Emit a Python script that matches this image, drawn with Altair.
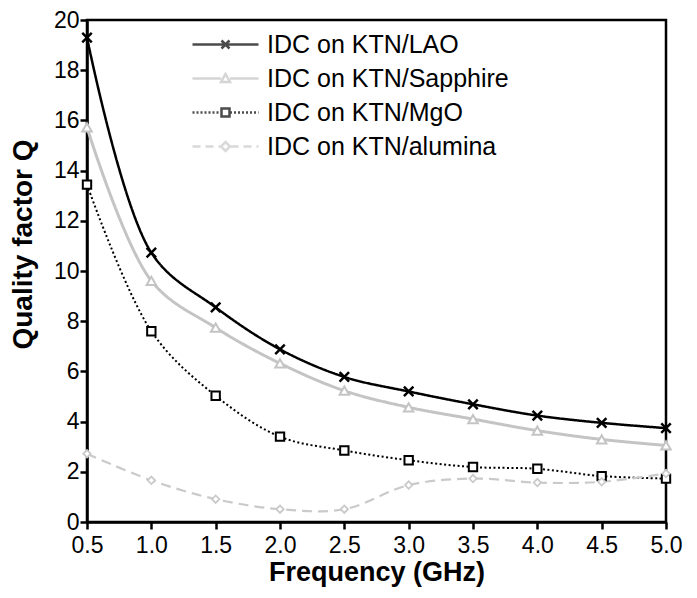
import altair as alt
import pandas as pd

freq = [0.5, 1.0, 1.5, 2.0, 2.5, 3.0, 3.5, 4.0, 4.5, 5.0]
q_lao = [19.3, 10.73, 8.55, 6.88, 5.78, 5.20, 4.69, 4.24, 3.95, 3.74]
q_sapphire = [15.72, 9.61, 7.74, 6.32, 5.23, 4.57, 4.10, 3.64, 3.29, 3.05]
q_mgo = [13.44, 7.60, 5.03, 3.40, 2.85, 2.46, 2.19, 2.12, 1.83, 1.73]
q_alumina = [2.72, 1.66, 0.91, 0.51, 0.51, 1.47, 1.73, 1.57, 1.60, 1.93]

names = ["IDC on KTN/LAO", "IDC on KTN/Sapphire", "IDC on KTN/MgO", "IDC on KTN/alumina"]
series_vals = [q_lao, q_sapphire, q_mgo, q_alumina]
colors = ["#000000", "#c4c4c4", "#000000", "#cacaca"]
dashes = [[1, 0], [1, 0], [2, 2.5], [10, 6]]
widths = [2.5, 3, 2, 2.2]

rows = []
for n, vals in zip(names, series_vals):
    for f, q in zip(freq, vals):
        rows.append({"series": n, "freq": f, "q": q})
df = pd.DataFrame(rows)

FONT = "Liberation Sans"

xs = alt.Scale(domain=[0.5, 5.0], nice=False, zero=False)
ys = alt.Scale(domain=[0, 20], nice=False)
X = alt.X("freq:Q", scale=xs, title="Frequency (GHz)",
          axis=alt.Axis(values=freq, format=".1f", labelPadding=5, labelFlush=False,
                        titlePadding=2, titleFontSize=27))
Y = alt.Y("q:Q", scale=ys, title="Quality factor Q",
          axis=alt.Axis(values=list(range(0, 21, 2)), labelPadding=1, labelFlush=False,
                        titleFontSize=28, titleX=-50, titleY=224, titleAngle=270,
                        titleAlign="center", titleBaseline="bottom"))

base = alt.Chart(df)

marker_shapes = [
    "M-1,-1L1,1M-1,1L1,-1",
    "triangle-up",
    "square",
    "diamond",
]
marker_sizes = [90, 90, 70, 55]
marker_fill = ["transparent", "white", "white", "white"]
marker_sw = [2.5, 2, 2, 1.8]

layers = []
for i, n in enumerate(names):
    sub = base.transform_filter(alt.datum.series == n)
    layers.append(
        sub.mark_line(interpolate="catmull-rom", color=colors[i], strokeWidth=widths[i],
                      strokeDash=dashes[i]).encode(x=X, y=Y)
    )
for i, n in enumerate(names):
    sub = base.transform_filter(alt.datum.series == n)
    layers.append(
        sub.mark_point(shape=marker_shapes[i], size=marker_sizes[i], filled=True,
                       fill=marker_fill[i], stroke=colors[i], strokeWidth=marker_sw[i],
                       opacity=1).encode(x=X, y=Y)
    )

def segs(a, b, seg, gap):
    out = []
    p = a
    while p < b - 1e-9:
        e = min(p + seg, b)
        out.append(f"M{p:.2f},0L{e:.2f},0")
        p = e + gap
    return "".join(out)

L = 6.6
leg_paths = [
    f"M{-L},0L{L},0M-0.8,-0.8L0.8,0.8M-0.8,0.8L0.8,-0.8",
    f"M{-L},0L-0.9,0M0.9,0L{L},0M-0.9,0.7L0,-0.9L0.9,0.7Z",
    segs(-L, -0.9, 0.4, 0.4) + segs(0.9, L, 0.4, 0.4) + "M-0.8,-0.8L0.8,-0.8L0.8,0.8L-0.8,0.8Z",
    segs(-L, -1.0, 1.6, 1.0) + segs(1.0, L, 1.6, 1.0) + "M0,-0.9L0.9,0L0,0.9L-0.9,0Z",
]

leg = alt.Legend(title=None, orient="none", legendX=126, legendY=12,
                 symbolSize=100, symbolStrokeWidth=2.5, labelFont=FONT,
                 labelFontSize=25, labelColor="black", labelOffset=29,
                 rowPadding=8, labelLimit=400)

legend_layer = base.transform_filter("false").mark_point(filled=False, size=100, strokeWidth=2.5).encode(
    x=X, y=Y,
    color=alt.Color("series:N", scale=alt.Scale(domain=names, range=colors), legend=leg),
    shape=alt.Shape("series:N", scale=alt.Scale(domain=names, range=leg_paths), legend=leg),
)
layers.append(legend_layer)

chart = alt.layer(*layers).properties(
    width=579, height=502,
    autosize=alt.AutoSizeParams(type="none"),
    padding={"left": 79, "top": 12, "right": 20, "bottom": 68},
).configure_view(
    stroke="black", strokeWidth=2.5
).configure_axis(
    grid=False, domainColor="black", domainWidth=2.5, tickColor="black",
    tickWidth=2.5, tickSize=7, labelFont=FONT, labelFontSize=23, labelColor="black",
    titleFont=FONT, titleFontWeight="bold", titleColor="black",
)

chart.save("out.html", embed_options={"renderer": "svg", "actions": False})
